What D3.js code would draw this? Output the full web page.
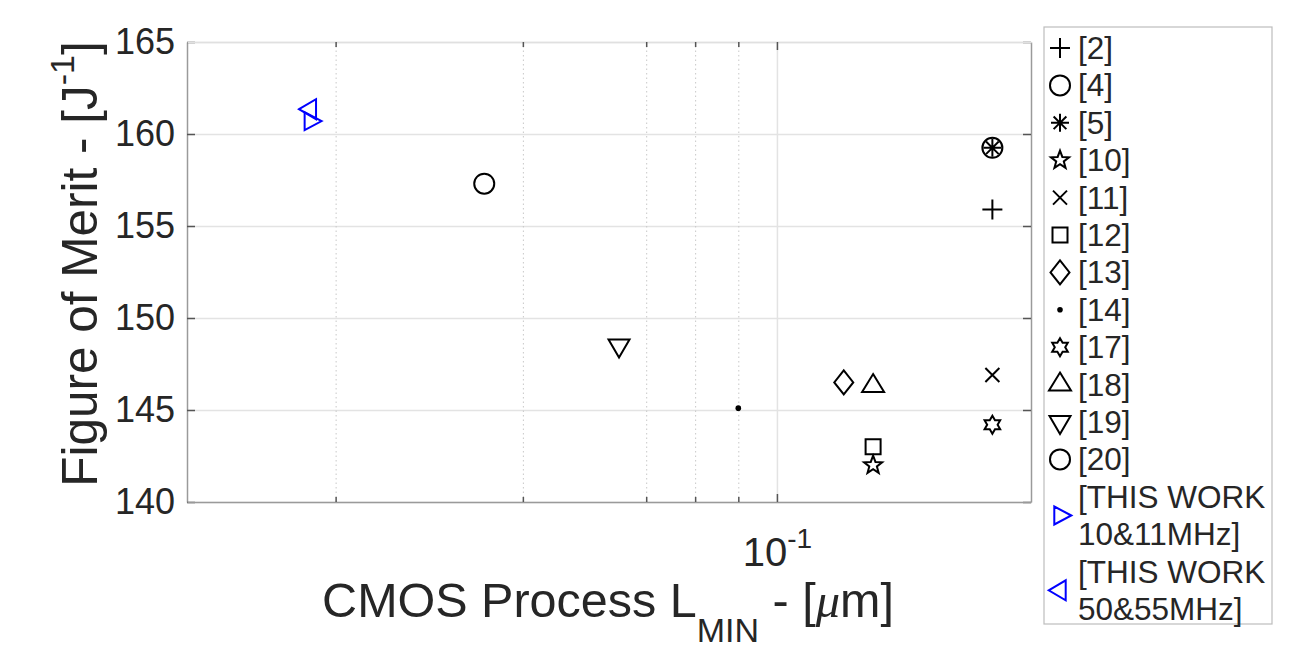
<!DOCTYPE html>
<html>
<head>
<meta charset="utf-8">
<script src="https://cdn.jsdelivr.net/npm/d3@7"></script>
<style>
  html, body { margin: 0; padding: 0; background: #fff; }
  svg { display: block; font-family: "Liberation Sans", Arial, sans-serif; }
</style>
</head>
<body>
<svg id="chart" width="1294" height="664"></svg>
<script>
// ---- data ----
const refs = ["[2]", "[4]", "[5]", "[10]", "[11]", "[12]", "[13]", "[14]", "[17]", "[18]", "[19]", "[20]",
              "[THIS WORK\n10&11MHz]", "[THIS WORK\n50&55MHz]"];
const markers = ["plus", "circle", "asterisk", "star5", "x", "square", "diamond", "dot", "star6",
                 "triUp", "triDown", "circle", "triRight", "triLeft"];
const colors = ["#000", "#000", "#000", "#000", "#000", "#000", "#000", "#000", "#000", "#000", "#000", "#000",
                "#0000ff", "#0000ff"];
const lminUm = [0.18, 0.18, 0.18, 0.13, 0.18, 0.13, 0.12, 0.09, 0.18, 0.13, 0.065, 0.045, 0.028, 0.028];
const fom = [155.9, 159.25, 159.25, 142.0, 146.9, 143.0, 146.5, 145.1, 144.2, 146.3, 148.5, 157.3, 160.7, 161.35];

const yTicks = [140, 145, 150, 155, 160, 165];
const xMajorTicks = [0.1];
const xTickLabels = [["10", "-1"]];
const xMinorTicks = [0.03, 0.05, 0.07, 0.08, 0.09];
const xDomain = [0.02, 0.2];
const yDomain = [140, 165];

// ---- layout ----
const svg = d3.select("#chart");
const L = 187, R = 1031, T = 42, B = 502;
const x = d3.scaleLog().domain(xDomain).range([L, R]);
const y = d3.scaleLinear().domain(yDomain).range([B, T]);

const textColor = "#262626";

// grid: horizontal major
svg.append("g")
  .attr("transform", `translate(${L},0)`)
  .call(d3.axisLeft(y).tickValues(yTicks).tickSize(-(R - L)).tickFormat(""))
  .call(g => g.select(".domain").remove())
  .call(g => g.selectAll(".tick line").attr("stroke", "#e3e3e3").attr("stroke-width", 1.5));

// grid: vertical minor (dotted)
svg.append("g")
  .attr("transform", `translate(0,${B})`)
  .call(d3.axisBottom(x).tickValues(xMinorTicks).tickSize(-(B - T)).tickFormat(""))
  .call(g => g.select(".domain").remove())
  .call(g => g.selectAll(".tick line").attr("stroke", "#c8c8c8").attr("stroke-width", 1).attr("stroke-dasharray", "1.5,3"));

// grid: vertical major
svg.append("g")
  .attr("transform", `translate(0,${B})`)
  .call(d3.axisBottom(x).tickValues(xMajorTicks).tickSize(-(B - T)).tickFormat(""))
  .call(g => g.select(".domain").remove())
  .call(g => g.selectAll(".tick line").attr("stroke", "#e3e3e3").attr("stroke-width", 1.5));

// axes box
const axisColor = "#9a9a9a";
const tickColor = "#555";
// left axis with labels
svg.append("g")
  .attr("transform", `translate(${L},0)`)
  .call(d3.axisLeft(y).tickValues(yTicks).tickSizeInner(-8).tickSizeOuter(0).tickPadding(12))
  .call(g => g.select(".domain").attr("stroke", axisColor).attr("stroke-width", 1.5))
  .call(g => g.selectAll(".tick line").attr("stroke", tickColor).attr("stroke-width", 1.5))
  .call(g => g.selectAll(".tick text").attr("fill", textColor).attr("font-size", 36)
               .attr("font-family", "Liberation Sans, Arial, sans-serif"));
// right axis
svg.append("g")
  .attr("transform", `translate(${R},0)`)
  .call(d3.axisRight(y).tickValues(yTicks).tickSizeInner(-8).tickSizeOuter(0).tickFormat(""))
  .call(g => g.select(".domain").attr("stroke", axisColor).attr("stroke-width", 1.5))
  .call(g => g.selectAll(".tick line").attr("stroke", tickColor).attr("stroke-width", 1.5));
// bottom axis (major)
const xAxisG = svg.append("g")
  .attr("transform", `translate(0,${B})`)
  .call(d3.axisBottom(x).tickValues(xMajorTicks).tickSizeInner(-8).tickSizeOuter(0).tickFormat(""))
  .call(g => g.select(".domain").attr("stroke", axisColor).attr("stroke-width", 1.5))
  .call(g => g.selectAll(".tick line").attr("stroke", tickColor).attr("stroke-width", 1.5));
xAxisG.selectAll(".tick").each(function(d, i) {
  const t = d3.select(this).append("text")
    .attr("y", 64).attr("fill", textColor).attr("font-size", 40).attr("text-anchor", "middle")
    .attr("font-family", "Liberation Sans, Arial, sans-serif");
  t.append("tspan").text(xTickLabels[i][0]);
  t.append("tspan").attr("dy", -18).attr("font-size", 28).text(xTickLabels[i][1]);
});
// bottom minor ticks
svg.append("g")
  .attr("transform", `translate(0,${B})`)
  .call(d3.axisBottom(x).tickValues(xMinorTicks).tickSizeInner(-5).tickSizeOuter(0).tickFormat(""))
  .call(g => g.select(".domain").remove())
  .call(g => g.selectAll(".tick line").attr("stroke", tickColor).attr("stroke-width", 1.5));
// top axis
svg.append("g")
  .attr("transform", `translate(0,${T})`)
  .call(d3.axisTop(x).tickValues(xMajorTicks).tickSizeInner(-8).tickSizeOuter(0).tickFormat(""))
  .call(g => g.select(".domain").attr("stroke", "#e0e0e0").attr("stroke-width", 1.5))
  .call(g => g.selectAll(".tick line").attr("stroke", tickColor).attr("stroke-width", 1.5));
svg.append("g")
  .attr("transform", `translate(0,${T})`)
  .call(d3.axisTop(x).tickValues(xMinorTicks).tickSizeInner(-5).tickSizeOuter(0).tickFormat(""))
  .call(g => g.select(".domain").remove())
  .call(g => g.selectAll(".tick line").attr("stroke", tickColor).attr("stroke-width", 1.5));

// axis labels
const yl = svg.append("text")
  .attr("transform", `translate(97,${(T + B) / 2 - 8}) rotate(-90)`)
  .attr("text-anchor", "middle").attr("fill", textColor).attr("font-size", 49.5);
yl.append("tspan").text("Figure of Merit - [J");
yl.append("tspan").attr("dy", -23).attr("font-size", 34).text("-1");
yl.append("tspan").attr("dy", 23).text("]");

const xl = svg.append("text")
  .attr("x", 608).attr("y", 617)
  .attr("text-anchor", "middle").attr("fill", textColor).attr("font-size", 48.5);
xl.append("tspan").text("CMOS Process L");
xl.append("tspan").attr("dy", 25).attr("font-size", 34).text("MIN");
xl.append("tspan").attr("dy", -25).text(" - [");
xl.append("tspan").attr("font-style", "italic").attr("font-family", "Liberation Serif, serif").text("\u03BC");
xl.append("tspan").text("m]");

// ---- marker shapes ----
function markerPath(type) {
  const p = d3.path();
  switch (type) {
    case "plus": p.moveTo(-10, 0); p.lineTo(10, 0); p.moveTo(0, -10); p.lineTo(0, 10); break;
    case "circle": p.moveTo(10, 0); p.arc(0, 0, 10, 0, 2 * Math.PI); break;
    case "asterisk":
      for (let k = 0; k < 4; k++) {
        const a = k * Math.PI / 4, r = 9;
        p.moveTo(-r * Math.cos(a), -r * Math.sin(a)); p.lineTo(r * Math.cos(a), r * Math.sin(a));
      }
      break;
    case "x": p.moveTo(-7, -7); p.lineTo(7, 7); p.moveTo(-7, 7); p.lineTo(7, -7); break;
    case "square": p.rect(-7.5, -7.5, 15, 15); break;
    case "diamond": p.moveTo(0, -12); p.lineTo(9.5, 0); p.lineTo(0, 12); p.lineTo(-9.5, 0); p.closePath(); break;
    case "star5": {
      const Ro = 9.5, Ri = 9.5 * 0.42;
      for (let k = 0; k < 10; k++) {
        const a = -Math.PI / 2 + k * Math.PI / 5, r = k % 2 ? Ri : Ro;
        k ? p.lineTo(r * Math.cos(a), r * Math.sin(a)) : p.moveTo(r * Math.cos(a), r * Math.sin(a));
      }
      p.closePath(); break;
    }
    case "star6": {
      const Ro = 9, Ri = 9 * 0.58;
      for (let k = 0; k < 12; k++) {
        const a = -Math.PI / 2 + k * Math.PI / 6, r = k % 2 ? Ri : Ro;
        k ? p.lineTo(r * Math.cos(a), r * Math.sin(a)) : p.moveTo(r * Math.cos(a), r * Math.sin(a));
      }
      p.closePath(); break;
    }
    case "triUp": p.moveTo(0, -12); p.lineTo(11, 6); p.lineTo(-11, 6); p.closePath(); break;
    case "triDown": p.moveTo(0, 12); p.lineTo(10.5, -6); p.lineTo(-10.5, -6); p.closePath(); break;
    case "triRight": p.moveTo(11.3, 0); p.lineTo(-5.7, -9); p.lineTo(-5.7, 9); p.closePath(); break;
    case "triLeft": p.moveTo(-11.3, 0); p.lineTo(5.7, -10); p.lineTo(5.7, 10); p.closePath(); break;
  }
  return p.toString();
}
function drawMarker(sel, type, color) {
  if (type === "dot") {
    sel.append("circle").attr("r", 2.8).attr("fill", color);
  } else {
    sel.append("path").attr("d", markerPath(type)).attr("fill", "none")
      .attr("stroke", color).attr("stroke-width", 2).attr("stroke-linejoin", "miter");
  }
}

// ---- data points ----
const pts = svg.append("g");
refs.forEach((r, i) => {
  const g = pts.append("g").attr("transform", `translate(${x(lminUm[i])},${y(fom[i])})`);
  drawMarker(g, markers[i], colors[i]);
});

// ---- legend ----
const lg = svg.append("g");
lg.append("rect").attr("x", 1044).attr("y", 27).attr("width", 228).attr("height", 597)
  .attr("fill", "#fff").attr("stroke", "#bdbdbd").attr("stroke-width", 1.2);
let rowY = 48;
const lineH = 37.4;
refs.forEach((r, i) => {
  const lines = r.split("\n");
  const mY = rowY + (lines.length - 1) * lineH / 2;
  const mg = lg.append("g").attr("transform", `translate(1060,${mY})`);
  drawMarker(mg, markers[i], colors[i]);
  const t = lg.append("text").attr("x", 1078).attr("fill", textColor).attr("font-size", 31.5);
  lines.forEach((ln, j) => {
    t.append("tspan").attr("x", 1078).attr("y", rowY + j * lineH + 11).text(ln);
  });
  rowY += lines.length * lineH;
});
</script>
</body>
</html>
